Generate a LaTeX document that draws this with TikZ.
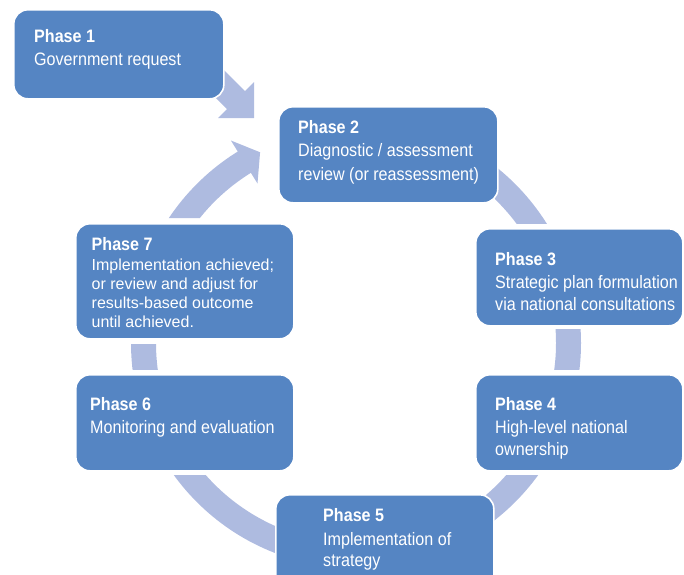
\documentclass[tikz,border=0pt]{standalone}
\usepackage{fontspec}
\setmainfont[FakeStretch=0.895]{Liberation Sans}
\newfontfamily\plainfont{Liberation Sans}
\usetikzlibrary{calc}
\definecolor{boxblue}{HTML}{5585C3}
\definecolor{ringblue}{HTML}{AEBBE0}
\begin{document}
\begin{tikzpicture}[x=1pt,y=-1pt,
  phasebox/.style={draw=white, line width=1.6pt, fill=boxblue, rounded corners=14pt, anchor=north west, inner sep=0pt},
  title/.style={anchor=base west, inner sep=0pt, text=white, font=\fontsize{18pt}{23pt}\selectfont\bfseries},
  body/.style={anchor=base west, inner sep=0pt, text=white, font=\fontsize{18pt}{23pt}\selectfont},
  smallbody/.style={anchor=base west, inner sep=0pt, text=white, font=\plainfont\fontsize{16pt}{19pt}\selectfont},
  ringfill/.style={fill=ringblue}]
\useasboundingbox (0,0) rectangle (684,574);
\coordinate (C) at (356,343);

% ring segments
\begin{scope}
\clip (356,0) rectangle (684,223);
\fill[ringfill, even odd rule] (C) circle[radius=225pt] (C) circle[radius=200pt];
\end{scope}
\begin{scope}
\clip (356,329) rectangle (684,369);
\fill[ringfill, even odd rule] (C) circle[radius=225pt] (C) circle[radius=200pt];
\end{scope}
\begin{scope}
\clip (356,475) rectangle (684,574);
\fill[ringfill, even odd rule] (C) circle[radius=225pt] (C) circle[radius=200pt];
\end{scope}
\begin{scope}
\clip (0,475) rectangle (356,574);
\fill[ringfill, even odd rule] (C) circle[radius=225pt] (C) circle[radius=200pt];
\end{scope}
\begin{scope}
\clip (0,344) rectangle (356,369);
\fill[ringfill, even odd rule] (C) circle[radius=225pt] (C) circle[radius=200pt];
\end{scope}
% arrow from phase 7 to phase 2
\begin{scope}
\clip (C) -- ($(C)+(120.8:400pt)$) -- (0,-100) -- (0,218) -- (356,218) -- cycle;
\fill[ringfill, even odd rule] (C) circle[radius=225pt] (C) circle[radius=200pt];
\end{scope}
\fill[ringfill] ($(C)+(121.7:238pt)$) -- ($(C)+(116.7:213.5pt)$) -- ($(C)+(121.7:187.5pt)$) -- cycle;

% arrow from phase 1 to phase 2
\fill[ringfill] (217,63) -- (245,91) -- (254,82) -- (254,118) -- (218,118) -- (227,109) -- (199,81) -- cycle;

% boxes
\node[phasebox, minimum width=210pt, minimum height=89pt] (p1) at (13,9) {};
\node[phasebox, minimum width=219pt, minimum height=96pt] (p2) at (278,106) {};
\node[phasebox, minimum width=207pt, minimum height=97pt] (p3) at (475,228) {};
\node[phasebox, minimum width=207pt, minimum height=96pt] (p4) at (475,374) {};
\node[phasebox, minimum width=218pt, minimum height=106pt] (p5) at (275,494) {};
\node[phasebox, minimum width=218pt, minimum height=96pt] (p6) at (75,374) {};
\node[phasebox, minimum width=218pt, minimum height=115pt] (p7) at (75,223) {};

% texts
\node[title] (t1) at (34,42) {Phase 1};
\node[body] (t1a) at (34,65) {Government request};

\node[title] (t2) at (298,133) {Phase 2};
\node[body] (t2a) at (298,156.5) {Diagnostic / assessment};
\node[body] (t2b) at (298,180) {review (or reassessment)};

\node[title] (t3) at (495,265) {Phase 3};
\node[body] (t3a) at (495,288) {Strategic plan formulation};
\node[body] (t3b) at (495,310.5) {via national consultations};

\node[title] (t4) at (495,410) {Phase 4};
\node[body] (t4a) at (495,433) {High-level national};
\node[body] (t4b) at (495,455) {ownership};

\node[title] (t5) at (323,521.7) {Phase 5};
\node[body] (t5a) at (323,545) {Implementation of};
\node[body] (t5b) at (323,566.5) {strategy};

\node[title] (t6) at (90,410) {Phase 6};
\node[body] (t6a) at (90,433) {Monitoring and evaluation};

\node[title] (t7) at (91.5,250) {Phase 7};
\node[smallbody] (t7a) at (91.5,270) {Implementation achieved;};
\node[smallbody] (t7b) at (91.5,289) {or review and adjust for};
\node[smallbody] (t7c) at (91.5,308) {results-based outcome};
\node[smallbody] (t7d) at (91.5,327) {until achieved.};
\end{tikzpicture}
\end{document}
